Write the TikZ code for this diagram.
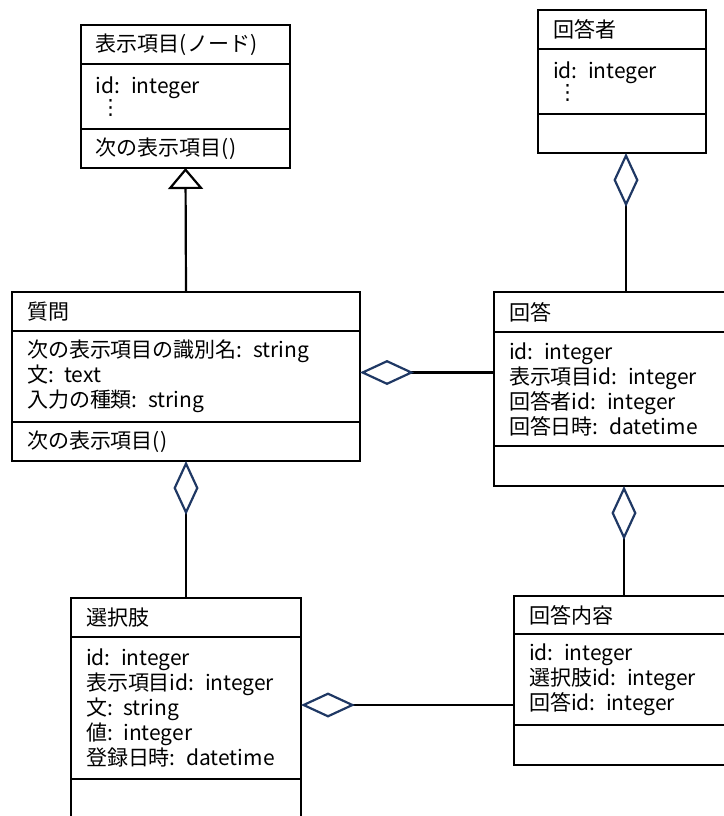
\documentclass[tikz,border=0pt]{standalone}
\usepackage{fontspec}
\setmainfont{Noto Sans CJK JP}
\newfontfamily\vdotsfont{DejaVu Sans}
\usepackage{tikz}
\usetikzlibrary{arrows.meta, positioning}
\definecolor{aggnavy}{HTML}{1F3864}
\newcommand{\morerows}{\hspace{2pt}{\vdotsfont ⋮}}

\begin{document}
\begin{tikzpicture}[x=0.5pt, y=-0.5pt,
  part/.style={rectangle, draw, line width=1.3pt, inner xsep=7.5pt, inner ysep=0pt,
    outer sep=0pt, align=left, font=\fontsize{10.5}{12.5}\selectfont},
  head/.style={part, anchor=north west, minimum height=19.5pt},
  gen/.style={line width=1.1pt, -{Triangle[open, length=10.5pt, width=17.5pt]}},
  agg/.style={line width=1.1pt, -{Diamond[open, length=27pt, width=12.5pt, color=aggnavy]}}
]
\useasboundingbox (0,0) rectangle (724,816);
\clip (0,0) rectangle (724,816);

\node[head, text width=89.5pt] (hyouji) at (81,25) {表示項目(ノード)};
\node[part, text width=89.5pt, minimum height=32.5pt, below=0pt of hyouji] (hyouji-a) {id: integer\\[-2pt]\morerows};
\node[part, text width=89.5pt, minimum height=19.5pt, below=0pt of hyouji-a] (hyouji-m) {次の表示項目()};

\node[head, text width=69pt] (kaitousha) at (538,10) {回答者};
\node[part, text width=69pt, minimum height=32.5pt, below=0pt of kaitousha] (kaitousha-a) {id: integer\\[-2pt]\morerows};
\node[part, text width=69pt, minimum height=19.5pt, below=0pt of kaitousha-a] (kaitousha-m) {};

\node[head, text width=159pt] (shitsumon) at (12,292) {質問};
\node[part, text width=159pt, minimum height=45.5pt, below=0pt of shitsumon] (shitsumon-a) {次の表示項目の識別名: string\\文: text\\入力の種類: string};
\node[part, text width=159pt, minimum height=19.5pt, below=0pt of shitsumon-a] (shitsumon-m) {次の表示項目()};

\node[head, text width=117pt, minimum height=20pt] (kaitou) at (494,292) {回答};
\node[part, text width=117pt, minimum height=57pt, below=0pt of kaitou] (kaitou-a) {id: integer\\表示項目id: integer\\回答者id: integer\\回答日時: datetime};
\node[part, text width=117pt, minimum height=20pt, below=0pt of kaitou-a] (kaitou-m) {};

\node[head, text width=100pt] (sentakushi) at (71,598) {選択肢};
\node[part, text width=100pt, minimum height=71pt, below=0pt of sentakushi] (sentakushi-a) {id: integer\\表示項目id: integer\\文: string\\値: integer\\登録日時: datetime};
\node[part, text width=100pt, minimum height=20pt, below=0pt of sentakushi-a] (sentakushi-m) {};

\node[head, text width=95pt, minimum height=19pt] (naiyou) at (514,596) {回答内容};
\node[part, text width=95pt, minimum height=45.5pt, below=0pt of naiyou] (naiyou-a) {id: integer\\選択肢id: integer\\回答id: integer};
\node[part, text width=95pt, minimum height=20pt, below=0pt of naiyou-a] (naiyou-m) {};

\draw[gen] (shitsumon.north) -- (hyouji-m.south);
\draw[agg] (kaitou.north) -- (kaitou.north |- kaitousha-m.south);
\draw[agg] ([yshift=2pt]shitsumon-a.east -| kaitou-a.west) -- ([yshift=2pt]shitsumon-a.east);
\draw[agg] (sentakushi.north) -- (shitsumon-m.south);
\draw[agg] (naiyou.north) -- (naiyou.north |- kaitou-m.south);
\draw[agg] ([yshift=1.5pt]sentakushi-a.east -| naiyou-a.west) -- ([yshift=1.5pt]sentakushi-a.east);
\end{tikzpicture}
\end{document}
